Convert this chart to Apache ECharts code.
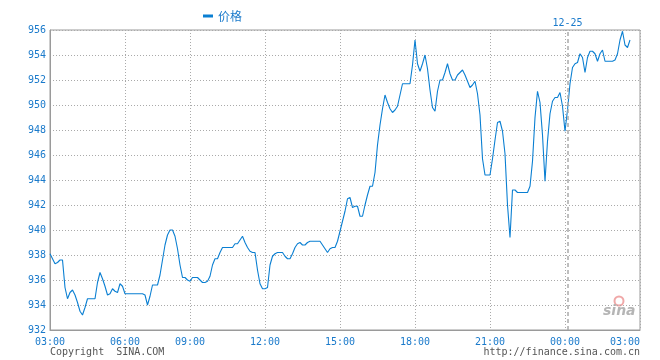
<!DOCTYPE html>
<html><head><meta charset="utf-8">
<script src="https://cdn.jsdelivr.net/npm/echarts@6/dist/echarts.min.js"></script>
<style>html,body{margin:0;padding:0;background:#fff}#c{width:660px;height:360px}</style>
</head><body><div id="c"></div>
<script>
// Tick labels shown on the time axis
const tickLabels = ['03:00','06:00','09:00','12:00','15:00','18:00','21:00','00:00'];
// Category slots (6-minute steps; the 06:00-09:00 session is shorter)
function pad(n){return (n<10?'0':'')+n;}
function fmt(m){m=((m%1440)+1440)%1440;return pad(Math.floor(m/60))+':'+pad(m%60);}
const categories = [];
for (let k=0;k<30;k++) categories.push(fmt(180+6*k));
for (let k=0;k<26;k++) categories.push(fmt(360+6*k));
for (let k=0;k<=180;k++) categories.push(fmt(540+6*k));
const seriesName = '价格';
const dateMarkIndex = 207;
const dateMarkLabel = '12-25';
const prices = [
938.1,937.7,937.3,937.4,937.6,937.6,935.4,934.5,935.0,935.2,
934.8,934.2,933.5,933.2,933.8,934.5,934.5,934.5,934.5,935.8,
936.6,936.1,935.5,934.8,934.9,935.3,935.1,935.0,935.7,935.5,
934.9,934.9,934.9,934.9,934.9,934.9,934.9,934.9,934.8,934.0,
934.7,935.6,935.6,935.6,936.4,937.6,938.8,939.6,940.0,940.0,
939.5,938.5,937.2,936.2,936.2,936.0,935.9,936.2,936.2,936.2,
936.0,935.8,935.8,935.9,936.3,937.2,937.7,937.7,938.2,938.6,
938.6,938.6,938.6,938.6,938.9,938.9,939.2,939.5,939.0,938.6,
938.3,938.2,938.2,936.8,935.7,935.3,935.3,935.4,937.2,937.9,
938.1,938.2,938.2,938.2,937.9,937.7,937.7,938.1,938.6,938.9,
939.0,938.8,938.8,939.0,939.1,939.1,939.1,939.1,939.1,938.8,
938.5,938.2,938.5,938.6,938.6,939.1,939.9,940.7,941.5,942.5,
942.6,941.8,941.9,941.9,941.1,941.1,942.0,942.8,943.5,943.5,
944.6,946.8,948.4,949.7,950.8,950.2,949.7,949.4,949.6,949.9,
950.8,951.7,951.7,951.7,951.7,953.2,955.2,953.3,952.7,953.3,
954.0,952.9,951.2,949.8,949.5,951.1,952.0,952.0,952.6,953.3,
952.5,952.0,952.0,952.4,952.6,952.8,952.4,951.9,951.4,951.6,
951.9,950.9,949.2,945.7,944.4,944.4,944.4,945.7,947.2,948.6,
948.7,947.9,946.1,942.0,939.4,943.2,943.2,943.0,943.0,943.0,
943.0,943.0,943.5,945.5,949.0,951.1,950.2,947.6,943.9,947.1,
949.3,950.3,950.6,950.6,951.0,949.9,947.9,949.6,951.7,953.0,
953.3,953.4,954.1,953.8,952.6,953.8,954.3,954.3,954.1,953.5,
954.1,954.4,953.5,953.5,953.5,953.5,953.6,954.1,955.2,955.9,
954.8,954.6,955.2
];
const yMin = 932, yMax = 956, yStep = 2;

const blue = '#0a7fd2', labelBlue = '#1a7acb', mono = '"DejaVu Sans Mono", monospace';
const isTick = (i, v) => tickLabels.indexOf(v) >= 0;
const chart = echarts.init(document.getElementById('c'), null, {renderer:'canvas'});
chart.setOption({
  animation: false,
  grid: {left:50, right:20, top:30, bottom:30, show:true, borderColor:'#9a9a9a', borderWidth:1},
  legend: {left:198, top:5, icon:'rect', itemWidth:10, itemHeight:3, itemGap:6,
    textStyle:{color:labelBlue, fontSize:12, fontFamily:'"Noto Sans CJK SC", sans-serif'},
    data:[seriesName]},
  xAxis: {type:'category', data:categories, boundaryGap:false,
    axisLine:{show:true, lineStyle:{color:'#9a9a9a'}}, axisTick:{show:false},
    axisLabel:{interval:isTick, color:labelBlue, fontFamily:mono, fontSize:10, margin:7, alignMaxLabel:'right'},
    splitLine:{show:true, interval:isTick, lineStyle:{color:'#aaaaaa', type:[1,2], width:1}}},
  yAxis: {type:'value', min:yMin, max:yMax, interval:yStep,
    axisLine:{show:true, lineStyle:{color:'#9a9a9a'}}, axisTick:{show:false},
    axisLabel:{color:labelBlue, fontFamily:mono, fontSize:10, margin:4},
    splitLine:{show:true, lineStyle:{color:'#aaaaaa', type:[1,2], width:1}}},
  graphic: [
    {type:'text', left:50, top:347, style:{text:'Copyright  SINA.COM', fill:'#555', font:'10px '+mono}},
    {type:'text', right:20, top:347, style:{text:'http://finance.sina.com.cn', fill:'#555', font:'10px '+mono}},
    {type:'circle', shape:{cx:619, cy:301, r:4.5}, style:{fill:'none', stroke:'#f0a8a8', lineWidth:2}},
    {type:'text', left:603, top:304, style:{text:'sina', fill:'#b5b5b5', font:'italic bold 14px "DejaVu Sans", sans-serif'}}
  ],
  series: [{
    name: seriesName, type:'line', data:prices, showSymbol:false, symbol:'none',
    lineStyle:{color:blue, width:1.1}, itemStyle:{color:blue},
    markLine:{silent:true, symbol:'none', animation:false,
      lineStyle:{color:'#aaaaaa', type:[4,3], width:1.5},
      label:{show:true, position:'end', formatter:dateMarkLabel, color:labelBlue, fontFamily:mono, fontSize:10, distance:2},
      data:[{xAxis:dateMarkIndex}]}
  }]
});
</script></body></html>
